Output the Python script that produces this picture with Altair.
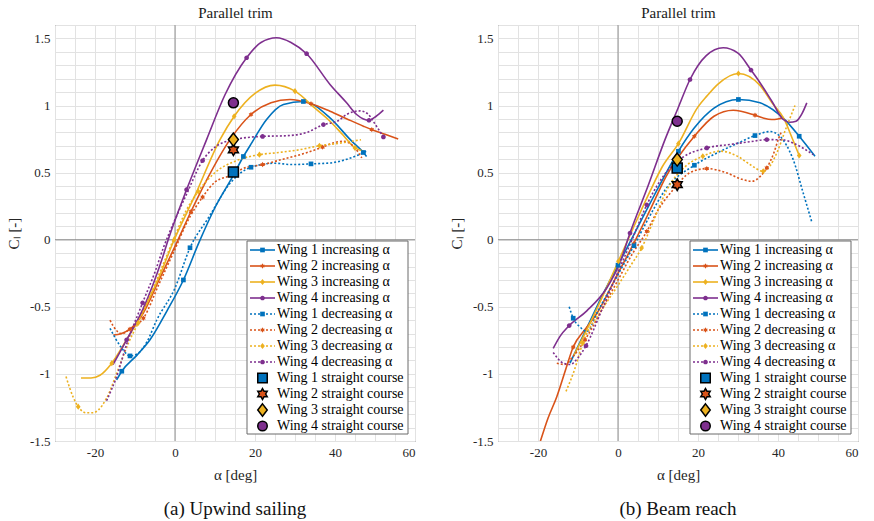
import math
import altair as alt
import pandas as pd

FONT = "Liberation Serif"
WINGS = ["Wing 1", "Wing 2", "Wing 3", "Wing 4"]
COLORS = ["#0072BD", "#D95319", "#EDB120", "#7E2F8E"]
LINE_NAMES = [f"{w} increasing α" for w in WINGS] + [f"{w} decreasing α" for w in WINGS]
COURSE_NAMES = [f"{w} straight course" for w in WINGS]
ALL_NAMES = LINE_NAMES + COURSE_NAMES
LEGEND_KIND = ["inc"] * 4 + ["dec"] * 4 + ["course"] * 4
PANEL_TITLES = ["Parallel trim", "Parallel trim"]
CAPTIONS = ["(a) Upwind sailing", "(b) Beam reach"]
X_TICKS = list(range(-30, 61, 5))
Y_TICKS = [round(-1.5 + 0.1 * i, 2) for i in range(32)]

# ---------------- (a) Upwind sailing ----------------
up_w1_inc_a = [-14.6, -13.3, -9.5, -6.25, -2.0, 2.1, 6.0, 10.0, 14.4, 17.1, 18.75, 22.9, 27.1, 32.1, 38.75, 44.0, 47.1, 47.9]
up_w1_inc_cl = [-1.045, -0.98, -0.86, -0.746, -0.53, -0.30, -0.02, 0.24, 0.47, 0.62, 0.70, 0.896, 1.007, 1.03, 0.908, 0.74, 0.65, 0.62]
up_w1_inc_mk = [1, 5, 9, 13, 16]

up_w2_inc_a = [-15.4, -13.5, -11.25, -8.0, -4.0, 0.0, 4.0, 8.0, 13.75, 19.0, 24.0, 28.75, 34.0, 38.75, 43.0, 47.1, 49.2, 52.5, 55.8]
up_w2_inc_cl = [-0.71, -0.70, -0.667, -0.55, -0.30, -0.05, 0.21, 0.45, 0.746, 0.933, 1.02, 1.045, 1.013, 0.957, 0.90, 0.846, 0.82, 0.785, 0.75]
up_w2_inc_mk = [2, 6, 9, 12, 16]

up_w3_inc_a = [-23.5, -21.0, -18.75, -15.8, -12.0, -8.3, -4.0, -0.2, 5.0, 11.25, 14.8, 20.0, 25.0, 30.0, 35.0, 38.75, 42.0, 45.0, 47.1]
up_w3_inc_cl = [-1.03, -1.03, -1.01, -0.92, -0.74, -0.55, -0.28, 0.0, 0.33, 0.746, 0.92, 1.09, 1.152, 1.107, 0.98, 0.883, 0.78, 0.684, 0.66]
up_w3_inc_mk = [3, 7, 10, 13, 17]

up_w4_inc_a = [-15.5, -14.0, -12.1, -7.9, -3.3, -1.7, 2.9, 7.9, 12.5, 17.9, 21.5, 25.4, 29.0, 32.9, 38.75, 42.9, 45.4, 47.1, 48.5, 50.3, 52.1]
up_w4_inc_cl = [-0.93, -0.85, -0.746, -0.51, -0.15, 0.0, 0.373, 0.746, 1.08, 1.356, 1.47, 1.505, 1.47, 1.386, 1.157, 1.02, 0.933, 0.90, 0.89, 0.92, 0.965]
up_w4_inc_mk = [2, 6, 9, 13, 18]

up_w1_dec_a = [-16.25, -13.5, -11.25, -9.4, -7.0, -4.6, 0.0, 3.75, 8.5, 13.75, 19.0, 25.0, 29.0, 34.0, 38.75, 43.0, 47.9]
up_w1_dec_cl = [-0.66, -0.80, -0.866, -0.85, -0.76, -0.60, -0.36, -0.06, 0.17, 0.42, 0.54, 0.57, 0.56, 0.565, 0.572, 0.60, 0.66]
up_w1_dec_mk = [2, 7, 10, 13]

up_w2_dec_a = [-16.25, -14.5, -13.3, -11.0, -7.9, -4.0, 0.0, 3.0, 6.9, 10.0, 14.0, 17.0, 21.9, 27.0, 32.0, 36.9, 40.0, 42.1, 44.5, 46.7]
up_w2_dec_cl = [-0.60, -0.68, -0.70, -0.66, -0.585, -0.33, -0.07, 0.13, 0.318, 0.43, 0.48, 0.53, 0.56, 0.60, 0.64, 0.69, 0.725, 0.734, 0.70, 0.61]
up_w2_dec_mk = [4, 8, 12, 15]

up_w3_dec_a = [-27.25, -25.5, -24.2, -22.1, -20.5, -19.2, -17.1, -14.0, -11.5, -9.2, -5.0, -0.4, 2.5, 5.8, 10.0, 15.4, 21.1, 26.0, 31.0, 36.1, 41.25, 46.5]
up_w3_dec_cl = [-1.02, -1.17, -1.244, -1.29, -1.29, -1.27, -1.18, -0.95, -0.76, -0.62, -0.33, 0.0, 0.2, 0.36, 0.50, 0.59, 0.634, 0.65, 0.67, 0.70, 0.72, 0.745]
up_w3_dec_mk = [2, 9, 13, 16, 19]

up_w4_dec_a = [-17.1, -14.6, -12.1, -8.1, -5.0, -2.9, 0.0, 2.9, 6.9, 10.0, 14.8, 21.9, 28.0, 33.0, 37.1, 40.4, 43.0, 46.25, 48.3, 49.6, 52.1]
up_w4_dec_cl = [-1.2, -1.02, -0.78, -0.47, -0.24, -0.06, 0.15, 0.34, 0.59, 0.69, 0.746, 0.77, 0.775, 0.80, 0.858, 0.88, 0.935, 0.96, 0.935, 0.88, 0.766]
up_w4_dec_mk = [3, 8, 11, 14, 20]

up_course_a = [14.6, 14.6, 14.6, 14.6]
up_course_cl = [0.505, 0.67, 0.746, 1.02]

# ---------------- (b) Beam reach ----------------
br_w1_inc_a = [-12.0, -8.0, -4.0, 0.0, 4.0, 8.0, 11.0, 15.1, 19.0, 24.0, 30.1, 35.5, 41.5, 45.3, 49.25]
br_w1_inc_cl = [-0.92, -0.67, -0.42, -0.19, 0.04, 0.27, 0.44, 0.659, 0.83, 0.98, 1.045, 1.02, 0.90, 0.771, 0.622]
br_w1_inc_mk = [3, 7, 10, 13]

br_w2_inc_a = [-19.6, -17.5, -15.3, -13.0, -11.2, -8.0, -5.3, 0.0, 3.9, 8.0, 12.0, 19.1, 24.0, 28.8, 34.25, 36.5, 38.4, 40.0, 41.5]
br_w2_inc_cl = [-1.52, -1.33, -1.17, -0.96, -0.80, -0.66, -0.55, -0.25, -0.03, 0.22, 0.47, 0.771, 0.92, 0.965, 0.928, 0.905, 0.896, 0.90, 0.91]
br_w2_inc_mk = [4, 8, 11, 14]

br_w3_inc_a = [-11.0, -6.0, -2.0, 0.1, 4.0, 8.0, 11.0, 15.1, 20.0, 22.2, 25.0, 30.1, 35.5, 38.5, 41.5, 43.5, 45.3]
br_w3_inc_cl = [-0.86, -0.56, -0.30, -0.16, 0.10, 0.36, 0.54, 0.716, 0.99, 1.07, 1.16, 1.239, 1.15, 1.02, 0.90, 0.76, 0.627]
br_w3_inc_mk = [3, 7, 11, 16]

br_w4_inc_a = [-16.2, -14.5, -12.2, -7.8, -2.8, 0.5, 3.0, 7.5, 11.75, 15.0, 18.0, 22.0, 26.3, 30.0, 33.25, 35.5, 38.5, 41.3, 43.0, 44.5, 46.0, 47.2]
br_w4_inc_cl = [-0.81, -0.72, -0.64, -0.53, -0.36, -0.17, 0.05, 0.40, 0.746, 0.98, 1.194, 1.37, 1.43, 1.39, 1.264, 1.17, 1.03, 0.896, 0.875, 0.883, 0.94, 1.02]
br_w4_inc_mk = [2, 6, 10, 14]

br_w1_dec_a = [-12.2, -11.2, -9.5, -7.8, -5.0, 0.0, 4.0, 8.0, 12.0, 19.1, 25.0, 30.0, 34.25, 38.0, 40.5, 42.2, 43.8, 46.3, 48.4]
br_w1_dec_cl = [-0.50, -0.585, -0.65, -0.684, -0.53, -0.26, -0.045, 0.18, 0.38, 0.555, 0.65, 0.72, 0.776, 0.806, 0.771, 0.70, 0.597, 0.348, 0.137]
br_w1_dec_mk = [1, 6, 9, 12]

br_w2_dec_a = [-15.3, -13.3, -11.5, -8.25, -4.0, 0.0, 3.5, 7.2, 10.0, 14.0, 18.0, 22.2, 27.0, 31.0, 33.4, 35.5, 37.2, 39.0, 40.1, 40.8]
br_w2_dec_cl = [-0.92, -0.93, -0.88, -0.746, -0.52, -0.30, -0.11, 0.062, 0.22, 0.38, 0.50, 0.53, 0.50, 0.45, 0.435, 0.47, 0.535, 0.65, 0.75, 0.80]
br_w2_dec_mk = [3, 7, 11, 16]

br_w3_dec_a = [-13.0, -11.0, -8.8, -4.0, 0.0, 3.0, 5.9, 9.0, 12.2, 17.0, 21.2, 25.5, 30.0, 33.0, 36.3, 38.0, 39.7, 42.2, 44.25]
br_w3_dec_cl = [-1.13, -0.98, -0.77, -0.52, -0.34, -0.20, -0.062, 0.15, 0.37, 0.55, 0.622, 0.66, 0.62, 0.56, 0.51, 0.55, 0.647, 0.846, 1.0]
br_w3_dec_mk = [2, 6, 10, 14]

br_w4_dec_a = [-16.2, -13.7, -12.0, -10.0, -8.0, -4.0, 0.0, 3.5, 7.2, 12.0, 16.0, 22.2, 28.0, 33.0, 37.2, 41.3, 43.8, 48.8]
br_w4_dec_cl = [-0.84, -0.92, -0.93, -0.88, -0.79, -0.52, -0.24, 0.0, 0.26, 0.50, 0.61, 0.684, 0.71, 0.73, 0.746, 0.744, 0.72, 0.634]
br_w4_dec_mk = [4, 8, 11, 14]

br_course_a = [14.8, 14.8, 14.8, 14.8]
br_course_cl = [0.535, 0.41, 0.597, 0.883]

UP_CURVES = [
    (up_w1_inc_a, up_w1_inc_cl, up_w1_inc_mk), (up_w2_inc_a, up_w2_inc_cl, up_w2_inc_mk),
    (up_w3_inc_a, up_w3_inc_cl, up_w3_inc_mk), (up_w4_inc_a, up_w4_inc_cl, up_w4_inc_mk),
    (up_w1_dec_a, up_w1_dec_cl, up_w1_dec_mk), (up_w2_dec_a, up_w2_dec_cl, up_w2_dec_mk),
    (up_w3_dec_a, up_w3_dec_cl, up_w3_dec_mk), (up_w4_dec_a, up_w4_dec_cl, up_w4_dec_mk),
]
BR_CURVES = [
    (br_w1_inc_a, br_w1_inc_cl, br_w1_inc_mk), (br_w2_inc_a, br_w2_inc_cl, br_w2_inc_mk),
    (br_w3_inc_a, br_w3_inc_cl, br_w3_inc_mk), (br_w4_inc_a, br_w4_inc_cl, br_w4_inc_mk),
    (br_w1_dec_a, br_w1_dec_cl, br_w1_dec_mk), (br_w2_dec_a, br_w2_dec_cl, br_w2_dec_mk),
    (br_w3_dec_a, br_w3_dec_cl, br_w3_dec_mk), (br_w4_dec_a, br_w4_dec_cl, br_w4_dec_mk),
]


# ---------------- marker shapes (SVG paths in unit coordinates) ----------------
def p_square(s):
    return f"M{-s},{-s}H{s}V{s}H{-s}Z"


def p_circle(s):
    return f"M{-s},0A{s},{s} 0 1 0 {s},0A{s},{s} 0 1 0 {-s},0Z"


def p_diamond(s):
    t = round(1.3 * s, 3)
    return f"M0,{-t}L{s},0L0,{t}L{-s},0Z"


def p_hexagram(s):
    pts = []
    for k in range(12):
        ang = math.radians(-90 + 30 * k)
        r = s if k % 2 == 0 else s * 0.577
        pts.append(f"{r * math.cos(ang):.3f},{r * math.sin(ang):.3f}")
    return "M" + "L".join(pts) + "Z"


MARKER_PATHS = [p_square(1), p_hexagram(1.15), p_diamond(1), p_circle(1)]


def build(curves, course_a, course_cl):
    rows, mrows = [], []
    for name, (a, c, m) in zip(LINE_NAMES, curves):
        wing = name[:6]
        d = "inc" if "increasing" in name else "dec"
        for i, (x, y) in enumerate(zip(a, c)):
            rows.append(dict(alpha=x, cl=y, series=name, wing=wing, dir=d, order=i))
            if i in m:
                mrows.append(dict(alpha=x, cl=y, series=name, wing=wing))
    crs = pd.DataFrame(dict(alpha=course_a, cl=course_cl, series=COURSE_NAMES, wing=WINGS))
    return pd.DataFrame(rows), pd.DataFrame(mrows), crs


legend_df = pd.DataFrame({"idx": list(range(len(ALL_NAMES))), "series": ALL_NAMES,
                          "wing": WINGS * 3, "kind": LEGEND_KIND})

xsc = alt.Scale(domain=[-30, 60], nice=False, zero=False)
ysc = alt.Scale(domain=[-1.5, 1.6], nice=False, zero=False)
csc = alt.Scale(domain=ALL_NAMES, range=COLORS * 3)
shsc = alt.Scale(domain=WINGS, range=MARKER_PATHS)
# legend rows: own vertical scale (row index -> pixel row inside the plot box)
lysc = alt.Scale(domain=[0, 11], range=[225, 401], nice=False, zero=False)

x_axis = alt.Axis(
    values=X_TICKS, labelExpr="datum.value % 20 === 0 ? '' + datum.value : ''",
    grid=True, gridColor="#e2e2e2", gridWidth=1, domain=False, ticks=False,
    labelFont=FONT, labelFontSize=13, labelColor="#262626", labelPadding=5,
    title="α [deg]", titleFont=FONT, titleFontSize=15, titleFontWeight="normal",
    titleColor="#262626", titlePadding=8,
)
y_axis = alt.Axis(
    values=Y_TICKS,
    labelExpr="abs(datum.value * 2 - round(datum.value * 2)) < 0.001 ? '' + datum.value : ''",
    grid=True, gridColor="#e2e2e2", gridWidth=1, domain=False, ticks=False,
    labelFont=FONT, labelFontSize=13, labelColor="#262626", labelPadding=5,
    title="Cₗ [-]", titleFont=FONT, titleFontSize=15, titleFontWeight="normal",
    titleColor="#262626", titlePadding=8,
)


def panel(curves, course_a, course_cl, top_title, caption):
    lines_df, marks_df, course_df = build(curves, course_a, course_cl)
    top_axis = alt.Axis(orient="top", title=top_title, labels=False, ticks=False, domain=False,
                        grid=False, titleFont=FONT, titleFontSize=15, titleFontWeight="normal",
                        titleColor="#1a1a1a", titlePadding=5)
    X = alt.X("alpha:Q", scale=xsc, axis=None)
    Y = alt.Y("cl:Q", scale=ysc, axis=None)
    C = alt.Color("series:N", scale=csc, legend=None)
    SH = alt.Shape("wing:N", scale=shsc, legend=None)
    LY = alt.Y("idx:Q", scale=lysc, axis=None)

    layers = []
    layers.append(alt.Chart(pd.DataFrame({"alpha": [0]})).mark_rule(color="#8f8f8f", strokeWidth=1).encode(
        x=alt.X("alpha:Q", scale=xsc, axis=top_axis)))
    layers.append(alt.Chart(pd.DataFrame({"cl": [0]})).mark_rule(color="#8f8f8f", strokeWidth=1).encode(
        y=alt.Y("cl:Q", scale=ysc, axis=y_axis)))
    inc_df = lines_df[lines_df["dir"] == "inc"]
    dec_df = lines_df[lines_df["dir"] == "dec"]
    layers.append(alt.Chart(inc_df).mark_line(strokeWidth=1.6, interpolate="monotone", clip=True).encode(
        x=alt.X("alpha:Q", scale=xsc, axis=x_axis), y=Y, color=C, order=alt.Order("order:Q")))
    layers.append(alt.Chart(dec_df).mark_line(strokeWidth=1.6, interpolate="monotone", clip=True,
                                              strokeDash=[2, 2]).encode(
        x=X, y=Y, color=C, order=alt.Order("order:Q")))
    layers.append(alt.Chart(marks_df).mark_point(filled=True, size=22, opacity=1, clip=True).encode(
        x=X, y=Y, color=C, shape=SH))
    layers.append(alt.Chart(course_df).mark_point(filled=True, size=100, opacity=1, stroke="#000000",
                                                  strokeWidth=1.5).encode(x=X, y=Y, color=C, shape=SH))

    # ---- legend box drawn from the legend table ----
    layers.append(alt.Chart(pd.DataFrame({"k": [0]})).mark_rect(
        fill="#ffffff", stroke="#6b6b6b", strokeWidth=1).encode(
        x=alt.value(192), x2=alt.value(353), y=alt.value(216), y2=alt.value(409)))
    layers.append(alt.Chart(legend_df[legend_df["kind"] == "inc"]).mark_rule(strokeWidth=1.6).encode(
        x=alt.value(195), x2=alt.value(220), y=LY, color=C))
    layers.append(alt.Chart(legend_df[legend_df["kind"] == "dec"]).mark_rule(
        strokeWidth=1.6, strokeDash=[2, 2]).encode(x=alt.value(195), x2=alt.value(220), y=LY, color=C))
    layers.append(alt.Chart(legend_df[legend_df["kind"] != "course"]).mark_point(
        filled=True, size=22, opacity=1).encode(x=alt.value(207.5), y=LY, color=C, shape=SH))
    layers.append(alt.Chart(legend_df[legend_df["kind"] == "course"]).mark_point(
        filled=True, size=90, opacity=1, stroke="#000000", strokeWidth=1.5).encode(
        x=alt.value(207.5), y=LY, color=C, shape=SH))
    layers.append(alt.Chart(legend_df).mark_text(
        align="left", baseline="middle", font=FONT, fontSize=14, color="#000000").encode(
        x=alt.value(222), y=LY, text="series:N"))

    return alt.layer(*layers).resolve_scale(y="independent").resolve_axis(
        x="independent", y="independent").properties(
        width=360, height=416,
        title=alt.TitleParams(caption, orient="bottom", anchor="middle", font=FONT, fontSize=19,
                              fontWeight="normal", color="#111111", offset=18),
    )


p1 = panel(UP_CURVES, up_course_a, up_course_cl, PANEL_TITLES[0], CAPTIONS[0])
p2 = panel(BR_CURVES, br_course_a, br_course_cl, PANEL_TITLES[1], CAPTIONS[1])

chart = alt.hconcat(p1, p2, spacing=32).resolve_scale(
    color="independent", shape="independent",
).properties(
    padding={"left": 5, "top": 4, "right": 6, "bottom": 2}
).configure(font=FONT).configure_view(stroke="#555555", strokeWidth=1)

chart.save("out.html", embed_options={"renderer": "svg", "actions": False})
